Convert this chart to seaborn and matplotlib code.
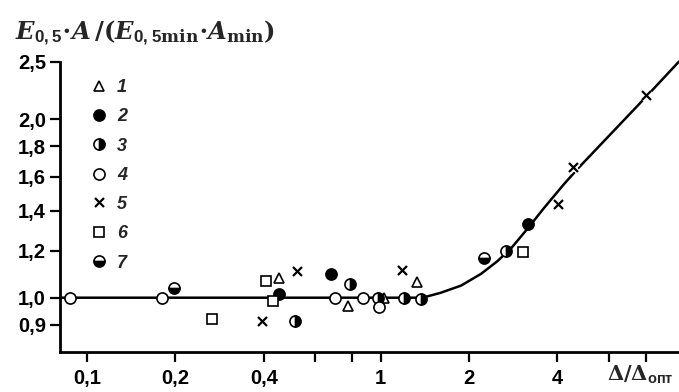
import matplotlib
matplotlib.use("Agg")
import matplotlib.pyplot as plt
import matplotlib.patheffects as pe
import numpy as np
import seaborn as sns
import pandas as pd

sns.set_theme(style="white")
plt.rcParams.update({
    'font.family': ['Liberation Sans', 'DejaVu Sans'],
    'mathtext.fontset': 'custom',
    'mathtext.it': 'DejaVu Serif:italic:bold',
    'mathtext.rm': 'DejaVu Serif:bold',
    'mathtext.sf': 'Liberation Sans:bold',
    'axes.spines.top': False,
    'axes.spines.right': False,
})

# --- data ---
# fitted curve
curve_x = [0.08, 1.39, 1.6, 1.88, 2.2, 2.5, 2.8, 3.2, 3.6, 4.2, 4.7, 8.1, 10.4]
curve_y = [1.0, 1.0, 1.019, 1.048, 1.097, 1.152, 1.215, 1.315, 1.415, 1.55, 1.65, 2.19, 2.5]

# series 1..7
s1_x = [0.449, 0.775, 1.03, 1.335]
s1_y = [1.079, 0.969, 1.0, 1.061]
s2_x = [0.452, 0.679, 3.18]
s2_y = [1.014, 1.096, 1.33]
s3_x = [0.509, 0.785, 0.98, 1.2, 1.37, 2.68]
s3_y = [0.915, 1.055, 1.0, 1.0, 0.995, 1.2]
s4_x = [0.0875, 0.18, 0.698, 0.873, 0.99]
s4_y = [1.0, 1.0, 1.0, 1.0, 0.963]
s5_x = [0.397, 0.522, 1.186, 4.03, 4.53, 8.08]
s5_y = [0.912, 1.107, 1.11, 1.437, 1.657, 2.19]
s6_x = [0.267, 0.407, 0.43, 3.06]
s6_y = [0.921, 1.065, 0.988, 1.192]
s7_x = [0.198, 2.26]
s7_y = [1.04, 1.166]

series_labels = ['1', '2', '3', '4', '5', '6', '7']

x_ticks = [0.1, 0.2, 0.4, 0.6, 0.8, 1, 2, 4, 6, 8]
x_ticklabels = ['0,1', '0,2', '0,4', '', '', '1', '2', '4', '', '']
y_ticks = [0.9, 1.0, 1.2, 1.4, 1.6, 1.8, 2.0, 2.5]
y_ticklabels = ['0,9', '1,0', '1,2', '1,4', '1,6', '1,8', '2,0', '2,5']

fig = plt.figure(figsize=(6.79, 3.92), dpi=100)
W, H = 679, 392
ax = fig.add_axes([60 / W, 40 / H, 619 / W, 315 / H])

curve = pd.DataFrame({'x': curve_x, 'y': curve_y})
sns.lineplot(data=curve, x='x', y='y', ax=ax, color='black', linewidth=1.8,
             sort=False, estimator=None, zorder=2)

ms = 8
mew = 1.2
styles = [
    dict(marker='^', mfc='white', ms=7),
    dict(marker='o', mfc='black', ms=ms),
    dict(marker='o', mfc='black', fillstyle='right', markerfacecoloralt='white', ms=ms),
    dict(marker='o', mfc='white', ms=ms),
    dict(marker='x', ms=6.5, mew=1.6),
    dict(marker='s', mfc='white', ms=7),
    dict(marker='o', mfc='black', fillstyle='bottom', markerfacecoloralt='white', ms=ms),
]
data = [(s1_x, s1_y), (s2_x, s2_y), (s3_x, s3_y), (s4_x, s4_y),
        (s5_x, s5_y), (s6_x, s6_y), (s7_x, s7_y)]
handles = []
for (xs, ys), st in zip(data, styles):
    kw = dict(mec='black', mew=mew, color='black', ls='none')
    kw.update(st)
    h, = ax.plot(xs, ys, zorder=3, **kw)
    if st['marker'] == 'x':
        h.set_path_effects([pe.Stroke(linewidth=3.5, foreground='white'), pe.Normal()])
    handles.append(h)

ax.set_xscale('log')
ax.set_yscale('log')
ax.set_xlim(0.0808, 10.4)
ax.set_ylim(0.81, 2.75)
ax.minorticks_off()
ax.set_xticks(x_ticks)
ax.set_xticklabels(x_ticklabels)
ax.set_yticks(y_ticks)
ax.set_yticklabels(y_ticklabels)
ax.minorticks_off()
ax.tick_params(axis='both', which='major', direction='out', length=7, width=1.6,
               color='black', labelsize=14.5, labelcolor='black', pad=3, bottom=True, left=True)
for lab in ax.get_xticklabels() + ax.get_yticklabels():
    lab.set_fontweight('bold')
ax.xaxis.set_tick_params(pad=5)
ax.spines['left'].set_bounds(0.81, 2.5)
for s in ['left', 'bottom']:
    ax.spines[s].set_linewidth(2)
    ax.spines[s].set_color('black')
ax.set_xlabel('')
ax.set_ylabel('')
ax.grid(False)

leg = ax.legend(handles, series_labels, loc='upper left',
                bbox_to_anchor=(90 / W, 1 - 79 / H), bbox_transform=fig.transFigure,
                frameon=False, prop={'style': 'italic', 'size': 13, 'weight': 'bold'},
                handlelength=1.0, handletextpad=0.5, labelspacing=0.68, borderpad=0,
                borderaxespad=0)

fig.text(15 / W, 1 - 40 / H,
         r'$E_{\mathsf{0,5}}{\cdot}A\,/(E_{\mathsf{0,5}\mathrm{min}}{\cdot}A_{\mathrm{min}})$',
         fontsize=17.5, ha='left', va='baseline')
fig.text(640 / W, 1 - 381 / H, r'$\Delta/\Delta_{\mathsf{опт}}$', fontsize=15,
         ha='center', va='baseline')

fig.savefig('out.png', dpi=100)
